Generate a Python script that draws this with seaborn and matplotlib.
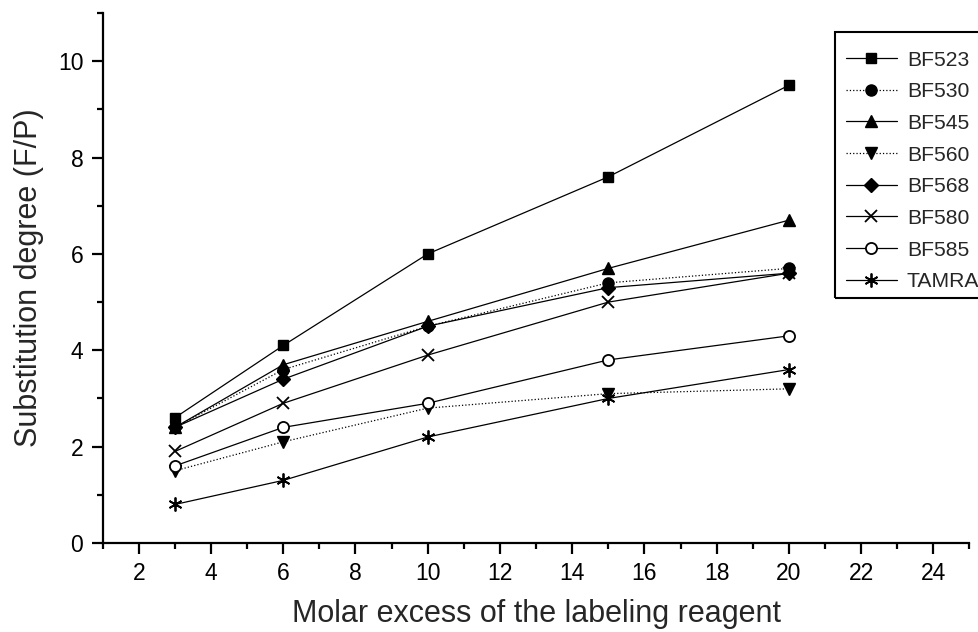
import numpy as np
import pandas as pd
import matplotlib
matplotlib.use("Agg")
import matplotlib.pyplot as plt
from matplotlib.patches import Rectangle
import seaborn as sns

# Molar excess of labeling reagent (x) and resulting F/P ratios per dye
molar_excess = [3, 6, 10, 15, 20]
bf523 = [2.6, 4.1, 6.0, 7.6, 9.5]
bf530 = [2.4, 3.6, 4.5, 5.4, 5.7]
bf545 = [2.4, 3.7, 4.6, 5.7, 6.7]
bf560 = [1.5, 2.1, 2.8, 3.1, 3.2]
bf568 = [2.4, 3.4, 4.5, 5.3, 5.6]
bf580 = [1.9, 2.9, 3.9, 5.0, 5.6]
bf585 = [1.6, 2.4, 2.9, 3.8, 4.3]
tamra = [0.8, 1.3, 2.2, 3.0, 3.6]

dyes = ["BF523", "BF530", "BF545", "BF560", "BF568", "BF580", "BF585", "TAMRA"]
series = [bf523, bf530, bf545, bf560, bf568, bf580, bf585, tamra]

sns.set_style("ticks")
plt.rcParams["font.family"] = ["Liberation Sans", "DejaVu Sans"]

df = pd.DataFrame({
    "x": np.tile(molar_excess, len(dyes)),
    "y": np.concatenate(series),
    "dye": np.repeat(dyes, len(molar_excess)),
})

styles = {
    "BF523": dict(marker="s", ls="-", mfc="black", ms=7.5),
    "BF530": dict(marker="o", ls=":", mfc="black", ms=8),
    "BF545": dict(marker="^", ls="-", mfc="black", ms=9),
    "BF560": dict(marker="v", ls=":", mfc="black", ms=9),
    "BF568": dict(marker="D", ls="-", mfc="black", ms=7),
    "BF580": dict(marker="x", ls="-", mfc="black", ms=9, mew=1.3),
    "BF585": dict(marker="o", ls="-", mfc="white", ms=8, mew=1.3),
    "TAMRA": dict(marker=(6, 2, 0), ls="-", mfc="black", ms=10, mew=1.3),
}

W, H = 979, 632
fig = plt.figure(figsize=(W / 100, H / 100), dpi=100)
ax = fig.add_axes([0.1049, 0.1408, 0.8853, 0.8386])

for dye in dyes:
    st = styles[dye]
    sns.lineplot(
        data=df[df["dye"] == dye], x="x", y="y", ax=ax,
        color="black", linewidth=0.9, linestyle=st["ls"],
        marker=st["marker"], markersize=st["ms"],
        markerfacecolor=st["mfc"], markeredgecolor="black",
        markeredgewidth=st.get("mew", 1.0), label=dye,
        errorbar=None,
    )

ax.set_xlim(1, 25)
ax.set_ylim(0, 11)
ax.set_xticks(range(2, 25, 2))
ax.set_xticks(range(1, 26, 2), minor=True)
ax.set_yticks(range(0, 11, 2))
ax.set_yticks(range(1, 12, 2), minor=True)

ax.tick_params(axis="both", which="major", direction="out", length=8,
               width=1.6, labelsize=16.5, color="black", labelcolor="black", pad=6)
ax.tick_params(axis="both", which="minor", direction="out", length=4.5,
               width=1.6, color="black")

for side in ("top", "right"):
    ax.spines[side].set_visible(False)
for side in ("left", "bottom"):
    ax.spines[side].set_linewidth(1.6)
    ax.spines[side].set_color("black")

ax.set_xlabel("Molar excess of the labeling reagent", fontsize=22, labelpad=10)
ax.set_ylabel("Substitution degree (F/P)", fontsize=22, labelpad=10)

# legend entries, with a separate box that runs off the right edge
leg = ax.legend(
    loc="upper left", bbox_to_anchor=(835 / W, 1 - 40 / H),
    bbox_transform=fig.transFigure, frameon=False,
    fontsize=15.2, handlelength=2.45, handletextpad=0.45, borderpad=0.5,
    labelspacing=0.6, borderaxespad=0,
)
box = Rectangle((835 / W, 1 - 297.7 / H), 170 / W, 266 / H,
                transform=fig.transFigure, fill=False,
                edgecolor="black", linewidth=1.5)
fig.add_artist(box)

fig.savefig("out.png", dpi=100)
